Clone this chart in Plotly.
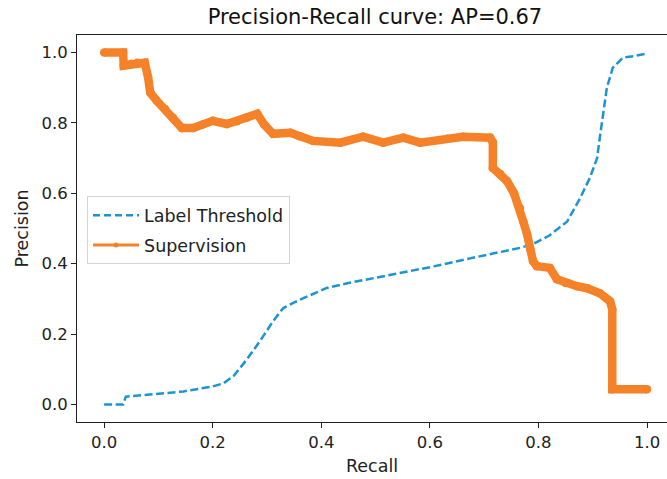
import plotly.graph_objects as go

# Label Threshold (blue dashed)
thr_recall = [0.0, 0.035, 0.04, 0.06, 0.10, 0.146, 0.20, 0.22, 0.238, 0.263, 0.287, 0.311, 0.33,
              0.361, 0.41, 0.45, 0.50, 0.545, 0.60, 0.674, 0.72, 0.766, 0.79, 0.82, 0.853, 0.877,
              0.895, 0.908, 0.913, 0.919, 0.926, 0.937, 0.956, 0.975, 1.0]
thr_precision = [0.0, 0.0, 0.022, 0.024, 0.030, 0.037, 0.051, 0.060, 0.080, 0.128, 0.180, 0.236, 0.274,
                 0.298, 0.331, 0.345, 0.360, 0.375, 0.390, 0.415, 0.430, 0.445, 0.456, 0.480, 0.520, 0.587,
                 0.645, 0.700, 0.758, 0.830, 0.900, 0.957, 0.986, 0.990, 0.997]

# Supervision (orange)
sup_recall = [0.0, 0.035, 0.036, 0.05, 0.061, 0.075, 0.081, 0.085, 0.097, 0.112, 0.127, 0.143, 0.164,
              0.18, 0.20, 0.226, 0.245, 0.263, 0.282, 0.295, 0.311, 0.343, 0.36, 0.385, 0.435, 0.477,
              0.514, 0.551, 0.582, 0.632, 0.661, 0.711, 0.716, 0.716, 0.73, 0.742, 0.755, 0.766, 0.772,
              0.779, 0.785, 0.79, 0.797, 0.821, 0.834, 0.85, 0.871, 0.89, 0.913, 0.932, 0.936, 0.936, 1.0]
sup_precision = [1.0, 1.0, 0.963, 0.968, 0.971, 0.971, 0.929, 0.886, 0.863, 0.840, 0.815, 0.786, 0.786,
                 0.795, 0.806, 0.797, 0.805, 0.815, 0.826, 0.795, 0.769, 0.772, 0.762, 0.749, 0.744, 0.761,
                 0.744, 0.758, 0.744, 0.755, 0.761, 0.758, 0.745, 0.672, 0.655, 0.635, 0.600, 0.558, 0.520,
                 0.484, 0.440, 0.407, 0.393, 0.388, 0.356, 0.345, 0.336, 0.330, 0.316, 0.293, 0.270, 0.043, 0.043]

x_ticks = [0.0, 0.2, 0.4, 0.6, 0.8, 1.0]
y_ticks = [0.0, 0.2, 0.4, 0.6, 0.8, 1.0]
tick_labels = ["0.0", "0.2", "0.4", "0.6", "0.8", "1.0"]

BLUE = "#1b94d1"
ORANGE = "#f58229"
FONT = "DejaVu Sans"

fig = go.Figure()
fig.add_trace(go.Scatter(x=thr_recall, y=thr_precision, mode="lines",
                         line=dict(color=BLUE, width=2.5, dash="8px,3.5px"),
                         showlegend=False, hoverinfo="skip"))
fig.add_trace(go.Scatter(x=sup_recall, y=sup_precision, mode="lines+markers",
                         line=dict(color=ORANGE, width=8.5),
                         marker=dict(color=ORANGE, size=8.5, symbol="circle"),
                         showlegend=False, hoverinfo="skip"))
# legend entries
fig.add_trace(go.Scatter(x=[None], y=[None], mode="lines", name="Label Threshold",
                         line=dict(color=BLUE, width=2.5, dash="7px,4px"), legendgroup="a"))
fig.add_trace(go.Scatter(x=[None], y=[None], mode="lines+markers", name="Supervision",
                         line=dict(color=ORANGE, width=3),
                         marker=dict(color=ORANGE, size=5), legendgroup="b"))

fig.update_layout(
    width=667, height=479,
    margin=dict(l=77, r=0, t=35, b=57),
    paper_bgcolor="white", plot_bgcolor="white",
    font=dict(family=FONT, size=16, color="#222222"),
    title=dict(text="Precision-Recall curve: AP=0.67", x=0.505, xref="paper", xanchor="center",
               y=0.9645, yref="container", yanchor="middle", font=dict(size=21, color="#111111")),
    legend=dict(x=0.017, y=0.495, xanchor="left", yanchor="middle", bgcolor="white",
                bordercolor="#d4d4d4", borderwidth=1, font=dict(size=17.5, color="#222222"),
                traceorder="grouped", tracegroupgap=4, itemwidth=46),
    showlegend=True,
)
fig.update_xaxes(range=[-0.05, 1.0368], tickvals=x_ticks, ticktext=tick_labels, automargin=False,
                 showgrid=False, zeroline=False, showline=True, linecolor="#222222", linewidth=1,
                 mirror=True, ticks="outside", ticklen=5, tickcolor="#222222",
                 tickfont=dict(size=16.5),
                 title=dict(text="Recall", standoff=8, font=dict(size=17.5)))
fig.update_yaxes(range=[-0.05, 1.05], tickvals=y_ticks, ticktext=tick_labels, automargin=False,
                 showgrid=False, zeroline=False, showline=True, linecolor="#222222", linewidth=1,
                 mirror=False, ticks="outside", ticklen=5, tickcolor="#222222",
                 tickfont=dict(size=16.5),
                 title=dict(text="Precision", standoff=8, font=dict(size=17.5)))

fig.write_html("out.html", config={"displayModeBar": False},
               post_script="document.body.style.margin='0';document.body.style.overflow='hidden';")
